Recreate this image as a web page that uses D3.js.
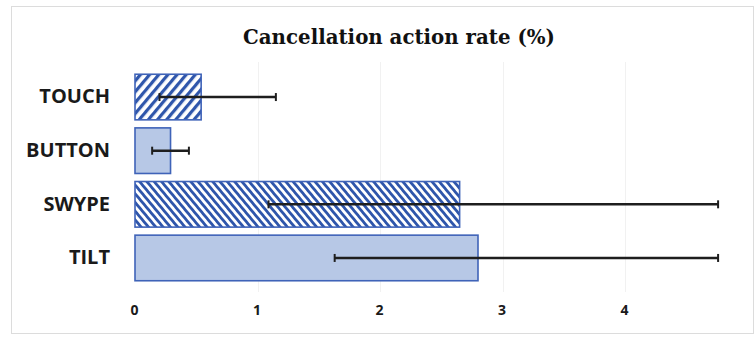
<!DOCTYPE html>
<html>
<head>
<meta charset="utf-8">
<script src="https://cdn.jsdelivr.net/npm/d3@7"></script>
<style>
  html, body { margin: 0; padding: 0; background: #fff; }
  svg { display: block; }
</style>
</head>
<body>
<svg id="chart" width="754" height="341"></svg>
<script>
// Cancellation action rate per input technique (%)
const categories = ["TOUCH", "BUTTON", "SWYPE", "TILT"];
const rates      = [0.54, 0.29, 2.65, 2.80];
const errLow     = [0.20, 0.14, 1.09, 1.63];
const errHigh    = [1.15, 0.44, 4.76, 4.76];
const fills      = ["hatchUp", "solid", "hatchDown", "solid"];
const tickValues = [0, 1, 2, 3, 4];
const title      = "Cancellation action rate (%)";

const rows = categories.map((c, i) => ({
  cat: c, v: rates[i], lo: errLow[i], hi: errHigh[i], fill: fills[i]
}));

const svg = d3.select("#chart");
const W = 754, H = 341;

const x = d3.scaleLinear().domain([0, 5]).range([135, 747.5]);
const y = d3.scaleBand().domain(categories).range([70.5, 284.5])
  .paddingInner(0.15).paddingOuter(0.07);

// hatch patterns
const defs = svg.append("defs");
function hatch(id, angle, spacing, width) {
  const p = defs.append("pattern")
    .attr("id", id)
    .attr("patternUnits", "userSpaceOnUse")
    .attr("width", spacing).attr("height", spacing)
    .attr("patternTransform", `rotate(${angle})`);
  p.append("rect").attr("width", spacing).attr("height", spacing).attr("fill", "#ffffff");
  p.append("rect").attr("width", width).attr("height", spacing).attr("fill", "#2f56ab");
}
hatch("hatchUp", 40, 7, 3.2);
hatch("hatchDown", -40, 5.6, 2.8);

// frame
svg.append("rect")
  .attr("x", 11.5).attr("y", 6.5)
  .attr("width", W - 12).attr("height", 327)
  .attr("fill", "#ffffff").attr("stroke", "#dcdcdc").attr("stroke-width", 1);

// faint vertical gridlines
svg.append("g").selectAll("line")
  .data(tickValues.slice(1))
  .join("line")
  .attr("x1", d => Math.round(x(d)) + 0.5).attr("x2", d => Math.round(x(d)) + 0.5)
  .attr("y1", 62).attr("y2", 292)
  .attr("stroke", "#f1f1f1").attr("stroke-width", 1);

// title
svg.append("text")
  .attr("x", 399).attr("y", 44)
  .attr("text-anchor", "middle")
  .attr("font-family", "'DejaVu Serif', serif")
  .attr("font-weight", "bold")
  .attr("font-size", 19.8)
  .attr("fill", "#111")
  .text(title);

// bars
svg.append("g").selectAll("rect")
  .data(rows)
  .join("rect")
  .attr("x", x(0))
  .attr("y", d => y(d.cat))
  .attr("width", d => x(d.v) - x(0))
  .attr("height", y.bandwidth())
  .attr("fill", d => d.fill === "solid" ? "#b7c8e6" : `url(#${d.fill})`)
  .attr("stroke", "#3f63b8")
  .attr("stroke-width", 1.6);

// error bars
const eb = svg.append("g").selectAll("g")
  .data(rows)
  .join("g")
  .attr("transform", d => `translate(0,${y(d.cat) + y.bandwidth() / 2})`);
eb.append("line")
  .attr("x1", d => x(d.lo)).attr("x2", d => x(d.hi))
  .attr("stroke", "#1e1e1e").attr("stroke-width", 2.4);
eb.selectAll("line.cap")
  .data(d => [d.lo, d.hi])
  .join("line")
  .attr("class", "cap")
  .attr("x1", d => x(d)).attr("x2", d => x(d))
  .attr("y1", -4).attr("y2", 4)
  .attr("stroke", "#1e1e1e").attr("stroke-width", 2);

// category labels
const yAxis = d3.axisLeft(y).tickSize(0).tickPadding(0);
const gy = svg.append("g").attr("transform", "translate(110,0)").call(yAxis);
gy.select(".domain").remove();
gy.selectAll("text")
  .attr("font-family", "'Open Sans', sans-serif")
  .attr("font-weight", "bold")
  .attr("font-size", 20)
  .attr("fill", "#1a1a1a");

// x axis labels
const xAxis = d3.axisBottom(x).tickValues(tickValues).tickSize(0).tickPadding(0)
  .tickFormat(d3.format("d"));
const gx = svg.append("g").attr("transform", "translate(-1,305)").call(xAxis);
gx.select(".domain").remove();
gx.selectAll("text")
  .attr("font-family", "'Open Sans', sans-serif")
  .attr("font-weight", "bold")
  .attr("font-size", 14)
  .attr("fill", "#1a1a1a");
</script>
</body>
</html>
